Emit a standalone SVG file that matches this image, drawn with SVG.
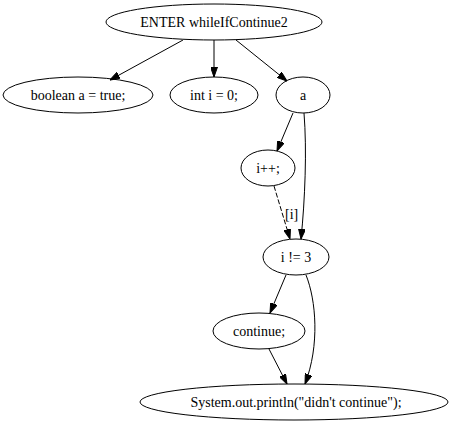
<svg xmlns="http://www.w3.org/2000/svg" width="452" height="425" viewBox="0 0 452 425">
<style>
.n ellipse{fill:none;stroke:#000;stroke-width:1}
.n text{font-family:"Liberation Serif","Times New Roman",serif;font-size:14px;text-anchor:middle;fill:#000}
.e{fill:none;stroke:#000;stroke-width:1;marker-end:url(#ah)}
.d{stroke-dasharray:5,2}
.lbl{font-family:"Liberation Serif","Times New Roman",serif;font-size:14px;fill:#000}
</style>
<defs>
<marker id="ah" viewBox="0 0 10 7" markerWidth="10" markerHeight="7" markerUnits="userSpaceOnUse" refX="10" refY="3.5" orient="auto">
<path d="M0,0 L10,3.5 L0,7 z" fill="#000" stroke="#000" stroke-width="1"/>
</marker>
</defs>
<rect width="452" height="425" fill="#fff"/>
<g id="connectors">
<path class="e" d="M183,40 L110,80"/>
<path class="e" d="M214,40 L214,77"/>
<path class="e" d="M236,40 L287,81"/>
<path class="e" d="M293,113 L277,151"/>
<path class="e" d="M304,113 C307,150 305,200 301,239"/>
<path class="e d" d="M274,186 L290,239"/>
<text class="lbl" x="285" y="219">[i]</text>
<path class="e" d="M286,275 L270,313"/>
<path class="e" d="M306,275 C316,300 320,345 305,384"/>
<path class="e" d="M269,349 L287,384"/>
</g>
<g id="enter" class="n"><ellipse cx="214" cy="22" rx="108" ry="18"/><text x="214" y="27">ENTER whileIfContinue2</text></g>
<g id="boolA" class="n"><ellipse cx="78" cy="95" rx="75" ry="18"/><text x="78" y="100">boolean a = true;</text></g>
<g id="intI" class="n"><ellipse cx="214" cy="95" rx="44" ry="18"/><text x="214" y="100">int i = 0;</text></g>
<g id="a" class="n"><ellipse cx="303" cy="95" rx="27" ry="18"/><text x="303" y="100">a</text></g>
<g id="inc" class="n"><ellipse cx="268" cy="168" rx="27" ry="18"/><text x="268" y="173">i++;</text></g>
<g id="cond" class="n"><ellipse cx="296" cy="257" rx="33" ry="18"/><text x="296" y="262">i != 3</text></g>
<g id="cont" class="n"><ellipse cx="259" cy="331" rx="46" ry="18"/><text x="259" y="336">continue;</text></g>
<g id="print" class="n"><ellipse cx="294" cy="402" rx="154" ry="18"/><text x="296" y="407">System.out.println("didn't continue");</text></g>
</svg>
